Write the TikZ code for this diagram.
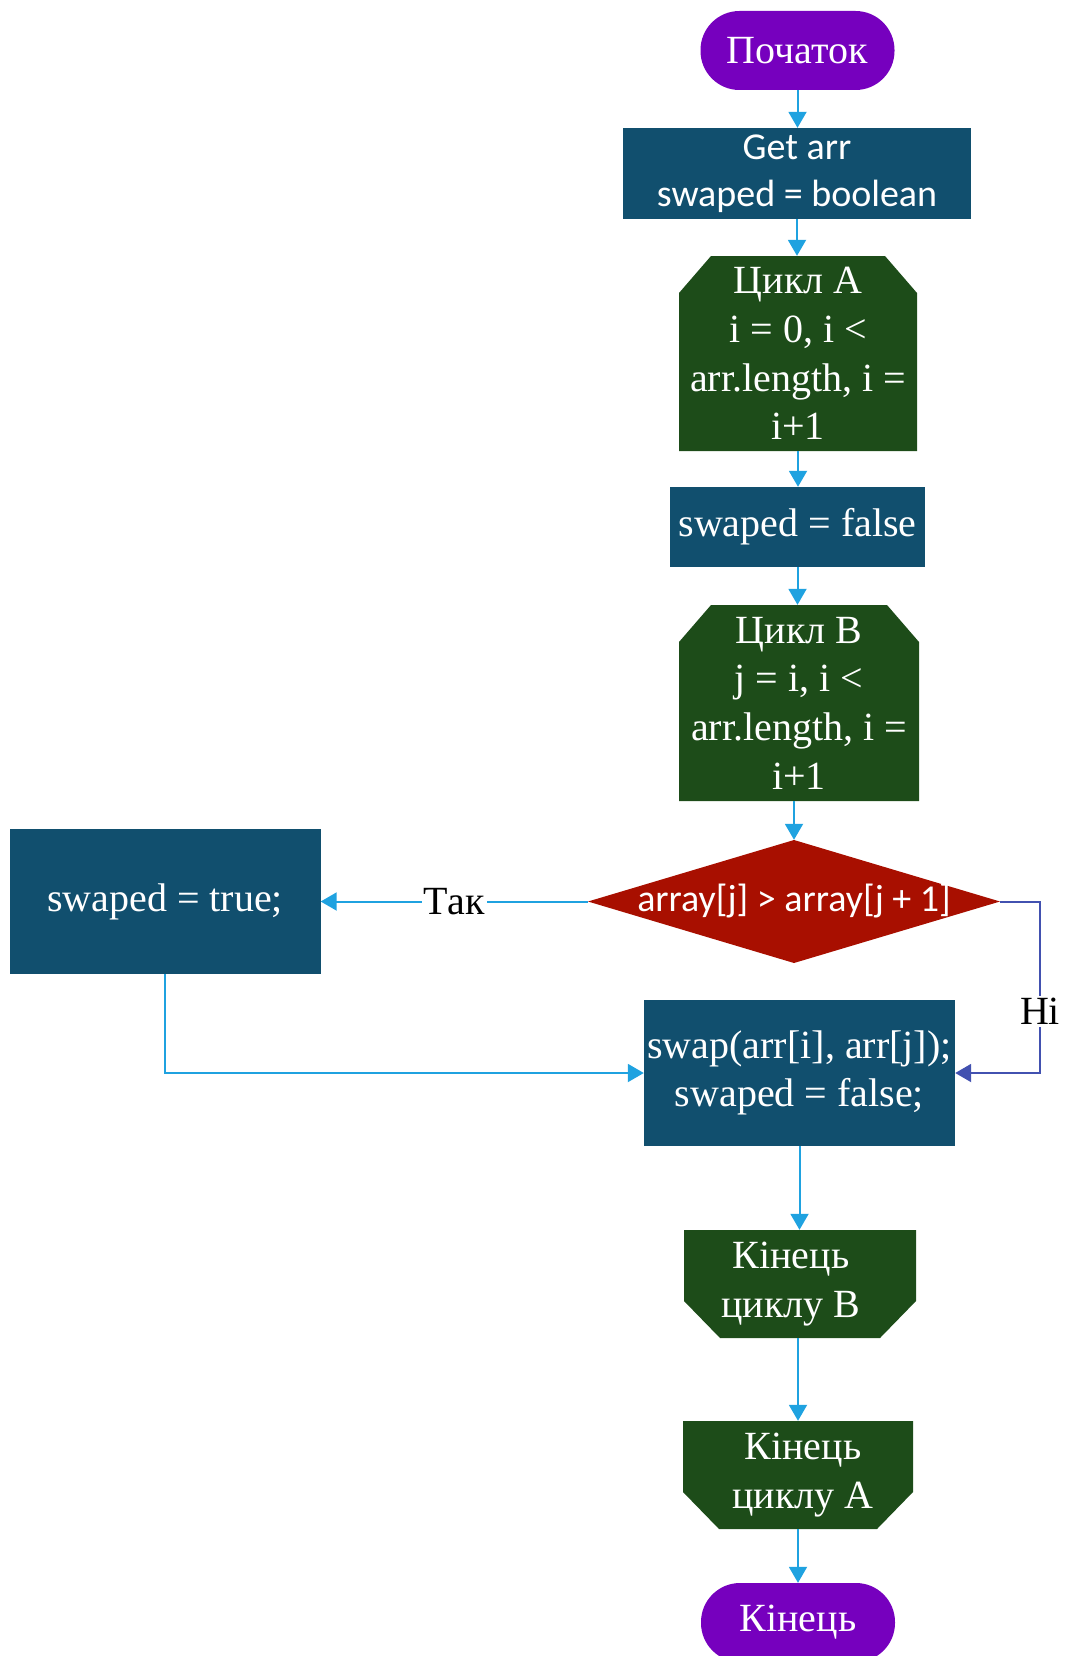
\documentclass[tikz,border=0pt]{standalone}
\usepackage{fontspec}
\setmainfont{Liberation Serif}
\newfontfamily\calfont{Carlito}
\usetikzlibrary{arrows.meta}
\definecolor{termpurple}{HTML}{7600BE}
\definecolor{procblue}{HTML}{114F6E}
\definecolor{loopgreen}{HTML}{1D4C19}
\definecolor{condred}{HTML}{A80F00}
\definecolor{flowblue}{HTML}{1FA2E0}
\definecolor{noblue}{HTML}{4251B0}

\tikzset{
  base/.style={inner sep=0pt, text=white, align=center,
    font=\fontsize{40}{48.6}\selectfont},
  sansbase/.style={base, font=\calfont\fontsize{38}{47}\selectfont},
  terminal/.style={base, fill=termpurple, rounded corners=39pt,
    minimum width=194pt, minimum height=79pt},
  process/.style={base, fill=procblue},
  loophead/.style={base, path picture={
    \fill[loopgreen]
      ([xshift=32pt]path picture bounding box.north west) --
      ([xshift=-32pt]path picture bounding box.north east) --
      ([yshift=-37pt]path picture bounding box.north east) --
      (path picture bounding box.south east) --
      (path picture bounding box.south west) --
      ([yshift=-37pt]path picture bounding box.north west) -- cycle;}},
  looptail/.style={base, path picture={
    \fill[loopgreen]
      (path picture bounding box.north west) --
      (path picture bounding box.north east) --
      ([yshift=37pt]path picture bounding box.south east) --
      ([xshift=-36pt]path picture bounding box.south east) --
      ([xshift=36pt]path picture bounding box.south west) --
      ([yshift=37pt]path picture bounding box.south west) -- cycle;}},
  decision/.style={sansbase, path picture={
    \fill[condred]
      (path picture bounding box.north) --
      (path picture bounding box.east) --
      (path picture bounding box.south) --
      (path picture bounding box.west) -- cycle;}},
  flow/.style={draw=flowblue, line width=2pt,
    -{Triangle[width=18pt,length=16pt]}},
  noflow/.style={flow, draw=noblue},
  branchlabel/.style={fill=white, text=black, inner sep=2pt,
    font=\fontsize{40}{48.6}\selectfont},
}

\begin{document}
\begin{tikzpicture}[x=1pt, y=-1pt]
  \useasboundingbox (0,0) rectangle (1066,1656);
  \clip (0,0) rectangle (1066,1656);

  % nodes of the flowchart
  \node[terminal] (start) at (797.5,50.5) {Початок};
  \node[process, sansbase, minimum width=348pt, minimum height=91pt]
    (getarr) at (797,173.5) {Get arr\\swaped = boolean};
  \node[loophead, minimum width=238pt, minimum height=195pt]
    (loopa) at (798,353.5) {Цикл A\\i = 0, i <\\arr.length, i =\\i+1};
  \node[process, minimum width=255pt, minimum height=80pt]
    (swfalse) at (797.5,527) {swaped = false};
  \node[loophead, minimum width=240pt, minimum height=196pt]
    (loopb) at (799,703) {Цикл B\\j = i, i <\\arr.length, i =\\i+1};
  \node[decision, minimum width=412pt, minimum height=123pt]
    (cond) at (794,901.5) {array[j] > array[j + 1]};
  \node[process, minimum width=311pt, minimum height=145pt]
    (swtrue) at (165,901.5) {swaped = true;};
  \node[process, minimum width=311pt, minimum height=146pt]
    (swap) at (799.5,1073) {swap(arr[i], arr[j]);\\swaped = false;};
  \node[looptail, minimum width=232pt, minimum height=108pt]
    (endb) at (800,1284) {Кінець\hspace*{18pt}\\циклу B\hspace*{18pt}};
  \node[looptail, minimum width=230pt, minimum height=108pt]
    (enda) at (798,1475) {\hspace*{10pt}Кінець\\\hspace*{10pt}циклу A};
  \node[terminal] (finish) at (798,1622.5) {Кінець};

  \coordinate (nocorner) at (1040,901.5);

  % connectors: vertical chain keeps the source's x
  \draw[flow] (start) -- (start.south |- getarr.north);
  \draw[flow] (getarr.south) -- (getarr.south |- loopa.north);
  \draw[flow] (loopa.south) -- (loopa.south |- swfalse.north);
  \draw[flow] (swfalse.south) -- (swfalse.south |- loopb.north);
  \draw[flow] (cond.north |- loopb.south) -- (cond.north);
  \draw[flow] (cond.west) -- node[branchlabel] {Так} (swtrue.east);
  \draw[noflow] (cond.east) -- (nocorner) |-
    node[branchlabel, pos=0.32] {Ні} (swap.east);
  \draw[flow] (swtrue.south) |- (swap.west);
  \draw[flow] (swap.south) -- (swap.south |- endb.north);
  \draw[flow] (endb.south -| enda.north) -- (enda.north);
  \draw[flow] (enda.south) -- (enda.south |- finish.north);
\end{tikzpicture}
\end{document}
